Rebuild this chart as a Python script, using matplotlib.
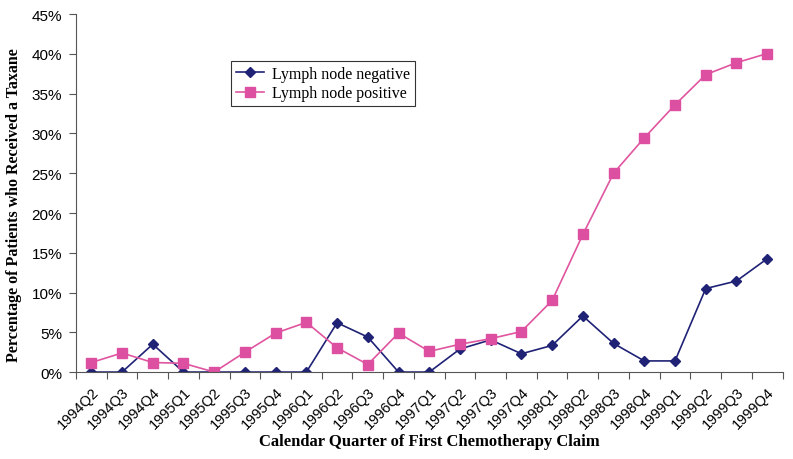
import matplotlib.pyplot as plt
from matplotlib.ticker import FuncFormatter

# quarters and taxane rates (%)
quarters = ["1994Q2", "1994Q3", "1994Q4", "1995Q1", "1995Q2", "1995Q3", "1995Q4",
            "1996Q1", "1996Q2", "1996Q3", "1996Q4", "1997Q1", "1997Q2", "1997Q3",
            "1997Q4", "1998Q1", "1998Q2", "1998Q3", "1998Q4", "1999Q1", "1999Q2",
            "1999Q3", "1999Q4"]
node_negative = [0, 0, 3.5, 0, 0, 0, 0, 0, 6.2, 4.4, 0, 0, 2.9, 4.05, 2.3, 3.35,
                 7.05, 3.6, 1.4, 1.4, 10.5, 11.45, 14.25]
node_positive = [1.2, 2.4, 1.2, 1.1, 0, 2.5, 4.9, 6.25, 3.05, 0.95, 4.9, 2.6, 3.5,
                 4.2, 5.1, 9.0, 17.3, 25.0, 29.45, 33.6, 37.4, 38.9, 40.05]

navy = "#1f2275"
pink = "#e0559f"

fig = plt.figure(figsize=(7.93, 4.6), dpi=100)
ax = fig.add_axes([0.0958, 0.189, 0.891, 0.778])

x = list(range(len(quarters)))
ax.plot(x, node_negative, color=navy, marker="D", markersize=5, linewidth=1.2,
        label="Lymph node negative")
ax.plot(x, node_positive, color=pink, marker="s", markersize=6.5, linewidth=1.2,
        markerfacecolor="#dd4fa0", markeredgecolor="#dd4fa0",
        label="Lymph node positive")

ax.set_xlim(-0.5, len(quarters) - 0.5)
ax.set_ylim(0, 45)
ax.set_yticks(range(0, 50, 5))
ax.yaxis.set_major_formatter(FuncFormatter(lambda v, p: f"{int(v)}%"))

# tick marks between categories, labels at category centres
ax.set_xticks([i - 0.5 for i in range(len(quarters) + 1)])
ax.set_xticklabels([])
ax.set_xticks(x, minor=True)
ax.set_xticklabels(quarters, minor=True, rotation=45, ha="right",
                   rotation_mode="anchor", fontsize=10.5, family="Liberation Sans")
ax.tick_params(axis="x", which="minor", length=0, pad=9)
ax.tick_params(axis="x", which="major", length=5, direction="out", color="#555555")
ax.tick_params(axis="y", length=5, direction="out", color="#555555", pad=5)
for lab in ax.get_yticklabels():
    lab.set_family("Liberation Sans")
    lab.set_fontsize(11)

for s in ["top", "right"]:
    ax.spines[s].set_visible(False)
for s in ["left", "bottom"]:
    ax.spines[s].set_color("#555555")

ax.set_xlabel("Calendar Quarter of First Chemotherapy Claim", family="Liberation Serif",
              fontweight="bold", fontsize=12, labelpad=1)
ax.set_ylabel("Percentage of Patients who Received a Taxane", family="Liberation Serif",
              fontweight="bold", fontsize=11.5)
ax.yaxis.set_label_coords(-0.076, 0.47)

leg = fig.legend(loc="upper left", bbox_to_anchor=(0.281, 0.882), frameon=True,
                 fancybox=False, edgecolor="black", prop={"family": "Liberation Serif", "size": 11.5},
                 handlelength=1.8, handletextpad=0.5, borderpad=0.3, labelspacing=0.2)
leg.get_frame().set_linewidth(0.8)

plt.savefig("out.png", dpi=100)
